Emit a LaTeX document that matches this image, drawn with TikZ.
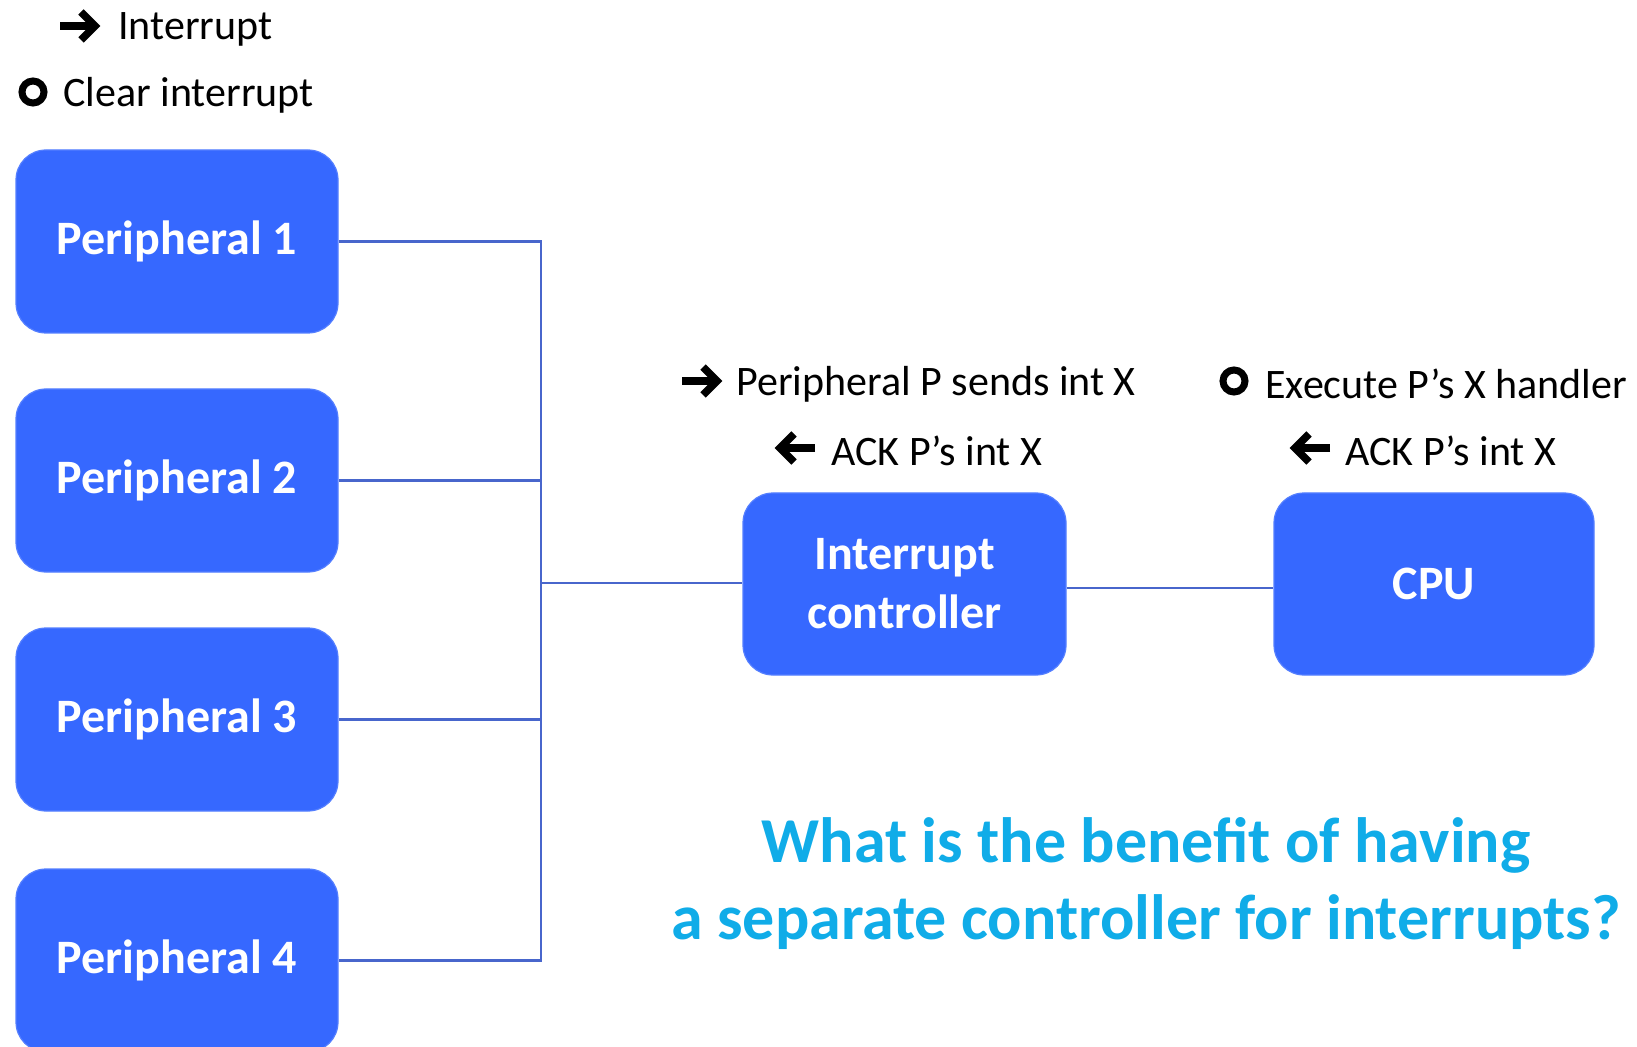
\documentclass[tikz,border=0pt]{standalone}
\usepackage{fontspec}
\setmainfont{Carlito}
\definecolor{boxblue}{RGB}{54,104,255}
\definecolor{wireblue}{RGB}{72,102,204}
\definecolor{qblue}{RGB}{16,172,232}
\newcommand{\lowertxt}[1]{\raisebox{-1pt}{#1}}
\begin{document}
\begin{tikzpicture}[x=0.5pt,y=-0.5pt,
  box/.style={draw=boxblue!85!white,line width=0.6pt,fill=boxblue,rounded corners=15pt,inner sep=0pt,
    text=white,font=\fontsize{24pt}{29.5pt}\selectfont\bfseries,align=center},
  pbox/.style={box,minimum width=161pt,minimum height=91.5pt},
  wire/.style={draw=wireblue,line width=1.2pt},
  lbl/.style={anchor=west,inner sep=0pt,font=\fontsize{21pt}{25pt}\selectfont},
  bigarrow/.style={line width=3.8pt,line join=miter,line cap=butt},
  ring/.style={line width=3.5pt}]
\useasboundingbox (0,0) rectangle (1637,1047);
\clip (0,0) rectangle (1637,1047);

% legend
\draw[bigarrow] (60,26) -- (92,26);
\draw[bigarrow] (81,12) -- (95,26) -- (81,40);
\node[lbl] (lint) at (118,29) {Interrupt};
\draw[ring] (33,92) circle (11);
\node[lbl] (lclr) at (63,95) {Clear interrupt};

% peripherals
\node[pbox] (p1) at (177,241.5) {\lowertxt{Peripheral 1}};
\node[pbox] (p2) at (177,480.5) {\lowertxt{Peripheral 2}};
\node[pbox] (p3) at (177,719.5) {\lowertxt{Peripheral 3}};
\node[pbox] (p4) at (177,960.5) {\lowertxt{Peripheral 4}};

% controller and cpu
\node[box,minimum width=161.5pt,minimum height=91pt] (ic) at (904.5,584) {Interrupt\\controller};
\node[box,minimum width=160pt,minimum height=91pt] (cpu) at (1434,584) {\lowertxt{CPU}};

\coordinate (bus) at (541,583);
\draw[wire] (p1.east) -- (p1.east -| bus) -- (p4.east -| bus) -- (p4.east);
\draw[wire] (p2.east) -- (p2.east -| bus);
\draw[wire] (p3.east) -- (p3.east -| bus);
\draw[wire] (bus) -- (bus -| ic.west);
\draw[wire] ([yshift=-2pt]ic.east) -- ([yshift=-2pt]cpu.west);

% labels above controller
\draw[bigarrow] (682,381) -- (714,381);
\draw[bigarrow] (703,367) -- (717,381) -- (703,395);
\node[lbl] (lsend) at (736,384) {Peripheral P sends int X};
\draw[bigarrow] (815,448) -- (783,448);
\draw[bigarrow] (794,434) -- (780,448) -- (794,462);
\node[lbl] (lack1) at (831,451) {ACK P’s int X};

% labels above cpu
\draw[ring] (1234,381) circle (11);
\node[lbl] (lexec) at (1265,384) {Execute P’s X handler};
\draw[bigarrow] (1330,448) -- (1298,448);
\draw[bigarrow] (1309,434) -- (1295,448) -- (1309,462);
\node[lbl] (lack2) at (1345,451) {ACK P’s int X};

% question
\node[inner sep=0pt,text=qblue,font=\fontsize{32pt}{38.5pt}\selectfont\bfseries,align=center]
  (q) at (1146,884) {What is the benefit of having\\a separate controller for interrupts?};
\end{tikzpicture}
\end{document}
